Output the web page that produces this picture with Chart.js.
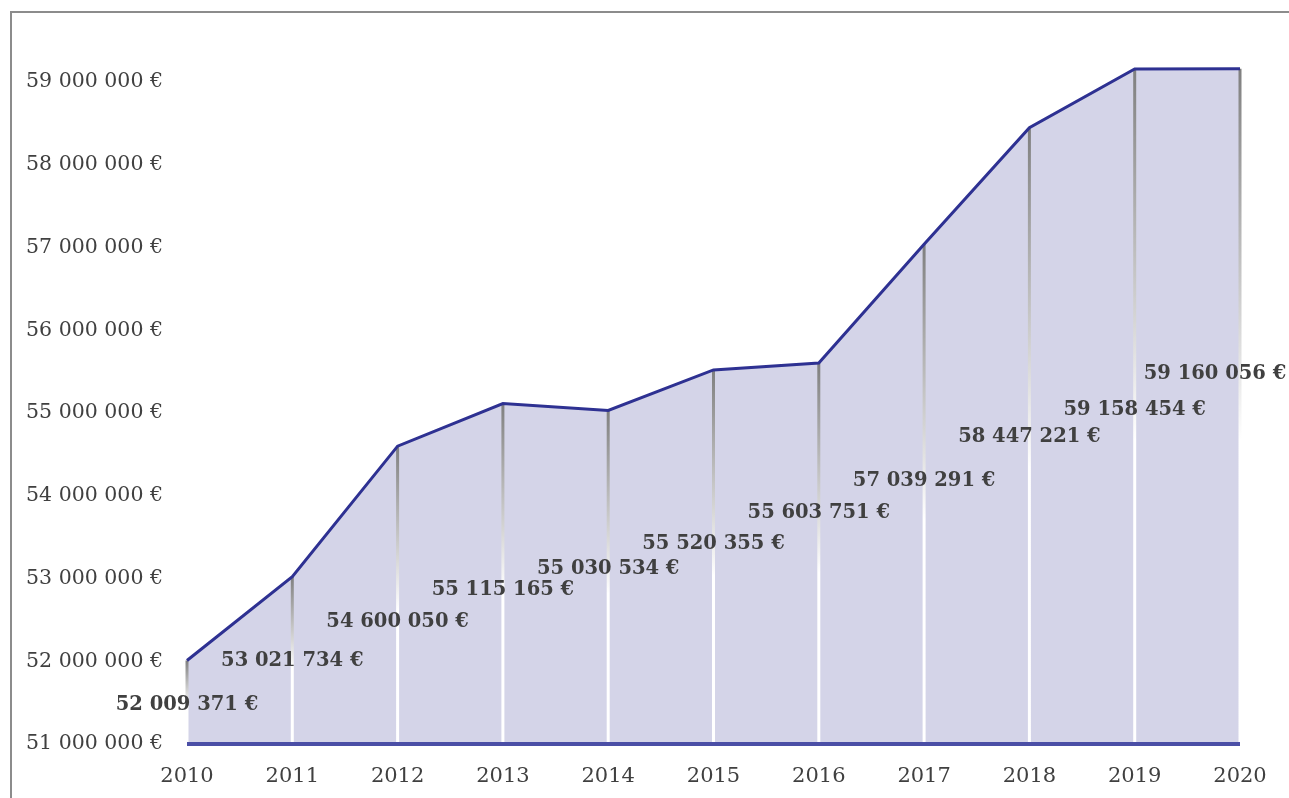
<!DOCTYPE html>
<html>
<head>
<meta charset="utf-8">
<script src="https://cdn.jsdelivr.net/npm/chart.js@4.4.1/dist/chart.umd.min.js"></script>
<style>
  html, body { margin: 0; padding: 0; background: #ffffff; }
  #wrap { width: 1289px; height: 798px; position: relative; }
</style>
</head>
<body>
<div id="wrap"><canvas id="c" width="1289" height="798"></canvas></div>
<script>
const categories = ["2010", "2011", "2012", "2013", "2014", "2015", "2016", "2017", "2018", "2019", "2020"];
const values = [52009371, 53021734, 54600050, 55115165, 55030534, 55520355, 55603751, 57039291, 58447221, 59158454, 59160056];
const yTicks = [51000000, 52000000, 53000000, 54000000, 55000000, 56000000, 57000000, 58000000, 59000000];

function fmtEuro(v) {
  return String(Math.round(v)).replace(/\B(?=(\d{3})+(?!\d))/g, " ") + " €";
}

const FONT = "'DejaVu Serif', 'Liberation Serif', serif";

// label nudges (pixels) relative to the middle of each drop line
const labelDx = [0, 0, 0, 0, 0, 0, 0, 0, 0, 0, -25];
const labelDy = [3, 1, 27, 16, -8, -13, -41, -13, 1, 3, -32];

const frame = {
  id: 'frame',
  beforeDraw(chart) {
    const ctx = chart.ctx;
    ctx.save();
    ctx.fillStyle = '#ffffff';
    ctx.fillRect(0, 0, chart.width, chart.height);
    ctx.strokeStyle = '#8c8c8c';
    ctx.lineWidth = 2;
    ctx.strokeRect(11, 12, 1400, 1000);
    ctx.restore();
  }
};

const dropLines = {
  id: 'dropLines',
  beforeDatasetDraw(chart) {
    const ctx = chart.ctx;
    const xs = chart.scales.x, ys = chart.scales.y;
    const bottom = ys.getPixelForValue(ys.min);
    ctx.save();
    values.forEach((v, i) => {
      const x = xs.getPixelForValue(i);
      const top = ys.getPixelForValue(v);
      const g = ctx.createLinearGradient(0, top, 0, bottom);
      g.addColorStop(0, '#7f7f7f');
      g.addColorStop(0.55, '#ffffff');
      g.addColorStop(1, '#ffffff');
      ctx.strokeStyle = g;
      ctx.lineWidth = 3;
      ctx.beginPath();
      ctx.moveTo(x, top);
      ctx.lineTo(x, bottom);
      ctx.stroke();
    });
    ctx.restore();
  }
};

const valueLabels = {
  id: 'valueLabels',
  afterDatasetsDraw(chart) {
    const ctx = chart.ctx;
    const xs = chart.scales.x, ys = chart.scales.y;
    const bottom = ys.getPixelForValue(ys.min);
    ctx.save();
    // base line of the area
    ctx.strokeStyle = '#4b4fa6';
    ctx.lineWidth = 4;
    ctx.beginPath();
    ctx.moveTo(xs.left, bottom);
    ctx.lineTo(xs.right, bottom);
    ctx.stroke();

    ctx.font = "bold 19.5px " + FONT;
    ctx.fillStyle = '#404040';
    ctx.textAlign = 'center';
    ctx.textBaseline = 'middle';
    values.forEach((v, i) => {
      const x = xs.getPixelForValue(i) + labelDx[i];
      const y = (ys.getPixelForValue(v) + bottom) / 2 + labelDy[i];
      ctx.fillText(fmtEuro(v), x, y);
    });
    ctx.restore();
  }
};

new Chart(document.getElementById('c'), {
  type: 'line',
  data: {
    labels: categories,
    datasets: [{
      data: values,
      borderColor: '#2e3192',
      borderWidth: 3,
      backgroundColor: '#d4d4e8',
      fill: 'start',
      tension: 0,
      pointRadius: 0,
      pointHoverRadius: 0
    }]
  },
  options: {
    responsive: false,
    animation: false,
    events: [],
    layout: { padding: { left: 0, right: 49, top: 13, bottom: 0 } },
    plugins: { legend: { display: false }, tooltip: { enabled: false } },
    scales: {
      x: {
        type: 'category',
        offset: false,
        grid: { display: false, drawTicks: false },
        border: { display: false },
        ticks: { color: '#404040', font: { family: FONT, size: 21 }, padding: 20, maxRotation: 0, autoSkip: false },
        afterFit(scale) { scale.height = 54; }
      },
      y: {
        type: 'linear',
        min: 51000000,
        max: 59553000,
        grid: { display: false, drawTicks: false },
        border: { display: false },
        afterBuildTicks(scale) { scale.ticks = yTicks.map(v => ({ value: v })); },
        ticks: {
          color: '#404040',
          font: { family: FONT, size: 20.5 },
          padding: 24,
          callback: (v) => fmtEuro(v)
        },
        afterFit(scale) { scale.width = 187; }
      }
    }
  },
  plugins: [frame, dropLines, valueLabels]
});
</script>
</body>
</html>
